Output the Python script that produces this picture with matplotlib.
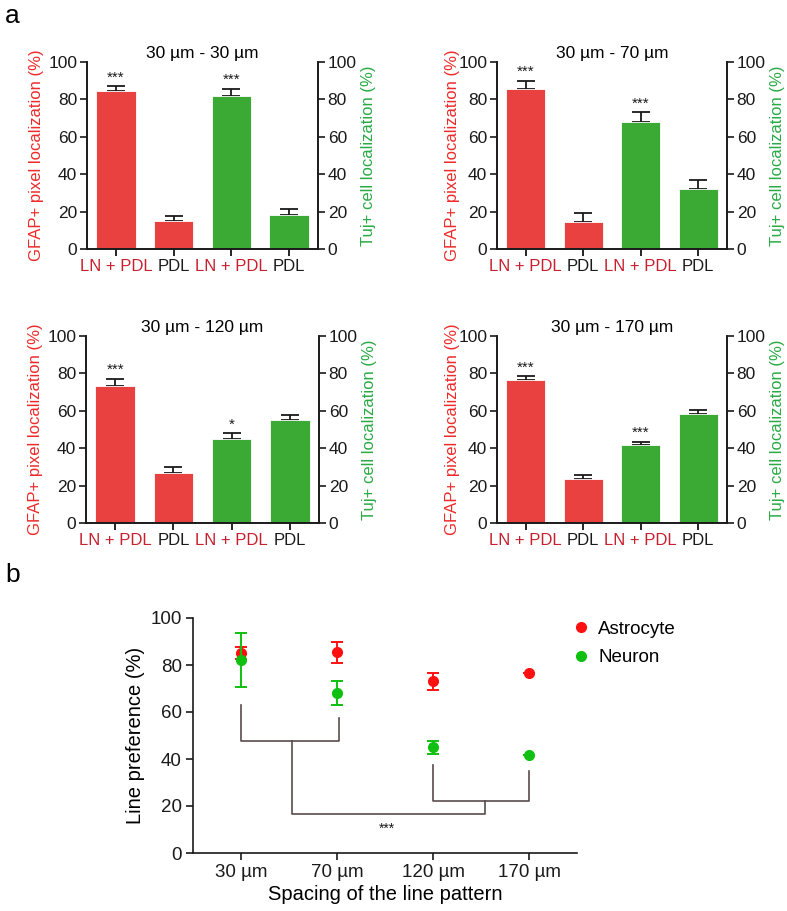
import matplotlib
matplotlib.use("Agg")
import matplotlib.pyplot as plt
from matplotlib.lines import Line2D
import numpy as np

plt.rcParams['font.family'] = ['Liberation Sans', 'DejaVu Sans']

W, H = 787, 911

# ---------------- data (panel a) ----------------
titles = ["30 µm - 30 µm", "30 µm - 70 µm", "30 µm - 120 µm", "30 µm - 170 µm"]
bar_labels = ["LN + PDL", "PDL", "LN + PDL", "PDL"]
gfap_means = [[84.5, 15.0], [85.5, 14.5], [73.0, 26.5], [76.5, 23.5]]
gfap_errs = [[2.5, 2.5], [4.5, 4.5], [4.0, 3.5], [2.0, 2.0]]
tuj_means = [[82.0, 18.0], [68.0, 32.0], [45.0, 55.0], [41.5, 58.5]]
tuj_errs = [[3.5, 3.5], [5.0, 5.0], [3.0, 3.0], [2.0, 2.0]]
gfap_sig = ["***", "***", "***", "***"]
tuj_sig = ["***", "***", "*", "***"]

# ---------------- data (panel b) ----------------
spacings = ["30 µm", "70 µm", "120 µm", "170 µm"]
astro_mean = [85.0, 85.5, 73.0, 76.5]
astro_err = [2.5, 4.5, 3.5, 0.0]
neuron_mean = [82.0, 68.0, 45.0, 41.5]
neuron_err = [11.5, 5.0, 2.7, 0.0]

RED_BAR = "#e8413f"
GREEN_BAR = "#3aaa35"
RED_TXT = "#ee2a2a"
GREEN_TXT = "#2aaa45"
LN_TXT = "#c8202f"
DARK = "#1a1a1a"
ASTRO_C = "#ff1010"
NEURON_C = "#10c010"

fig = plt.figure(figsize=(W / 100, H / 100), dpi=100)


def px_axes(left, right, top, bottom):
    return fig.add_axes([left / W, 1 - bottom / H, (right - left) / W, (bottom - top) / H])


panel_boxes = [(87, 318, 62, 249), (497, 727, 62, 249), (86, 319, 336, 523), (497, 727, 336, 523)]
left_pads = [3, -1, 3, -1]

for i, box in enumerate(panel_boxes):
    ax = px_axes(*box)
    x = np.arange(4)
    vals = gfap_means[i] + tuj_means[i]
    errs = gfap_errs[i] + tuj_errs[i]
    colors = [RED_BAR, RED_BAR, GREEN_BAR, GREEN_BAR]
    ax.bar(x, vals, width=0.68, color=colors, edgecolor='white', linewidth=0.6, zorder=2)
    ax.errorbar(x, vals, yerr=[np.zeros(4), errs], fmt='none', ecolor=DARK,
                elinewidth=1.3, capsize=6.5, capthick=1.3, zorder=1)
    sigs = [gfap_sig[i], None, tuj_sig[i], None]
    for xi, v, e, s in zip(x, vals, errs, sigs):
        if s:
            ax.text(xi, v + e + 1.0, s, ha='center', va='bottom', fontsize=11, color=DARK)
    ax.set_xlim(-0.5, 3.5)
    ax.set_ylim(0, 100)
    ax.set_yticks([0, 20, 40, 60, 80, 100])
    ax.set_xticks(x)
    ax.set_xticklabels(bar_labels, fontsize=12)
    for lab, c in zip(ax.get_xticklabels(), [LN_TXT, DARK, LN_TXT, DARK]):
        lab.set_color(c)
    ax.tick_params(axis='y', labelsize=12.5, direction='out', length=5, width=1.2, colors=DARK, pad=2)
    ax.tick_params(axis='x', direction='out', length=5, width=1.2, pad=2)
    ax.spines['top'].set_visible(False)
    for sp in ['left', 'right', 'bottom']:
        ax.spines[sp].set_linewidth(1.2)
        ax.spines[sp].set_color(DARK)
    ax.set_ylabel("GFAP+ pixel localization (%)", color=RED_TXT, fontsize=12, labelpad=left_pads[i])
    ax.set_title(titles[i], fontsize=12.5, pad=3)

    ax2 = ax.twinx()
    ax2.set_ylim(0, 100)
    ax2.set_yticks([0, 20, 40, 60, 80, 100])
    ax2.tick_params(axis='y', labelsize=12.5, direction='out', length=5, width=1.2, colors=DARK, pad=2)
    ax2.spines['top'].set_visible(False)
    for sp in ['left', 'right', 'bottom']:
        ax2.spines[sp].set_linewidth(1.2)
        ax2.spines[sp].set_color(DARK)
    ax2.set_ylabel("Tuj+ cell localization (%)", color=GREEN_TXT, fontsize=12, labelpad=3)

fig.text(5 / W, 1 - 16 / H, "a", fontsize=19, va='center', ha='left')
fig.text(5 / W, 1 - 575 / H, "b", fontsize=19, va='center', ha='left')

# ---------------- panel b ----------------
axb = px_axes(193, 577, 618, 853)
xb = np.arange(4)
axb.errorbar(xb, astro_mean, yerr=astro_err, fmt='o', color=ASTRO_C, ms=7,
             elinewidth=1.4, capsize=4, capthick=1.4, zorder=3)
axb.errorbar(xb, neuron_mean, yerr=neuron_err, fmt='o', color=NEURON_C, ms=7,
             elinewidth=1.4, capsize=4, capthick=1.4, zorder=4)
axb.set_xlim(-0.5, 3.5)
axb.set_ylim(0, 100)
axb.set_yticks([0, 20, 40, 60, 80, 100])
axb.set_xticks(xb)
axb.set_xticklabels(spacings)
axb.tick_params(labelsize=13.5, direction='out', length=5, width=1.2, colors=DARK, pad=3)
axb.spines['top'].set_visible(False)
axb.spines['right'].set_visible(False)
for sp in ['left', 'bottom']:
    axb.spines[sp].set_linewidth(1.2)
    axb.spines[sp].set_color(DARK)
axb.set_xlabel("Spacing of the line pattern", fontsize=14.5, labelpad=3)
axb.set_ylabel("Line preference (%)", fontsize=14.5, labelpad=4)

# significance brackets (annotation)
BR = "#5a4c4c"
lw_br = 1.2
axb.plot([0, 0, 1.02, 1.02], [63, 47.7, 47.7, 57.4], color=BR, lw=lw_br)
axb.plot([2, 2, 3.0, 3.0], [37.4, 22, 22, 35], color=BR, lw=lw_br)
axb.plot([0.53, 0.53, 2.54, 2.54], [47.7, 16.6, 16.6, 22], color=BR, lw=lw_br)
axb.text(1.52, 10.5, "***", ha='center', va='center', fontsize=10, color=DARK)

handles = [Line2D([], [], marker='o', ls='none', color=ASTRO_C, ms=7),
           Line2D([], [], marker='o', ls='none', color=NEURON_C, ms=7)]
fig.legend(handles=handles, labels=["Astrocyte", "Neuron"],
           loc='upper left', bbox_to_anchor=(553 / W, 1 - 604 / H), frameon=False,
           fontsize=13.5, handletextpad=0.3, labelspacing=0.6, handlelength=1.2)

fig.savefig("out.png", dpi=100)
